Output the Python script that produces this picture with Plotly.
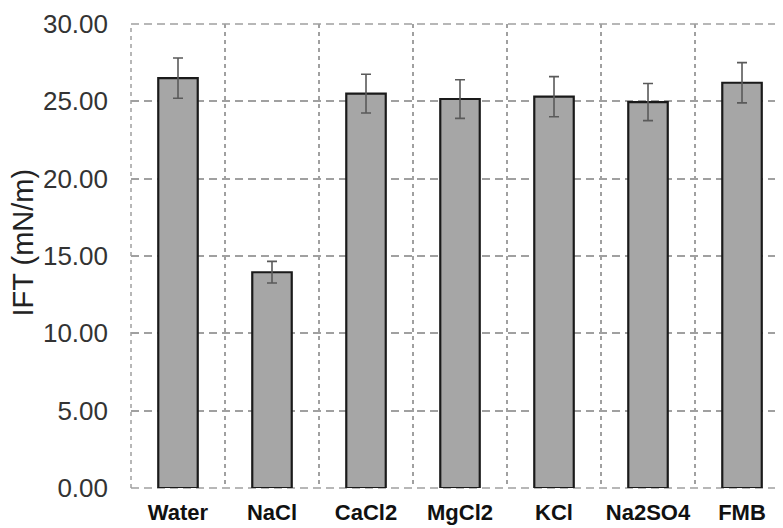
import plotly.graph_objects as go

categories = ["Water", "NaCl", "CaCl2", "MgCl2", "KCl", "Na2SO4", "FMB"]
ift_values = [26.5, 13.95, 25.5, 25.15, 25.3, 24.95, 26.2]
ift_errors = [1.3, 0.7, 1.25, 1.25, 1.3, 1.2, 1.3]
y_ticks = [0, 5, 10, 15, 20, 25, 30]
y_tick_labels = ["0.00", "5.00", "10.00", "15.00", "20.00", "25.00", "30.00"]

grid_color = "#a0a0a0"

fig = go.Figure()
fig.add_trace(go.Bar(
    x=categories,
    y=ift_values,
    width=0.42,
    marker=dict(color="#a6a6a6", line=dict(color="#1a1a1a", width=2.2)),
    error_y=dict(type="data", array=ift_errors, visible=True,
                 color="#5a5a5a", thickness=1.6, width=5),
))

# dashed frame edges (top, bottom, left) like the grid
for (x0, y0, x1, y1, d) in [(0, 0, 1, 0, "8px,5px"), (0, 1, 1, 1, "8px,5px"), (0, 0, 0, 1, "4px,4px")]:
    fig.add_shape(type="line", xref="paper", yref="paper",
                  x0=x0, y0=y0, x1=x1, y1=y1,
                  line=dict(color=grid_color, width=1.5, dash=d),
                  layer="below")

fig.add_annotation(text="IFT (mN/m)", textangle=-90, showarrow=False,
                   xref="paper", yref="paper", x=-0.165, y=0.53,
                   xanchor="center", yanchor="middle",
                   font=dict(size=29, color="#222222"))

fig.update_layout(
    width=775, height=520,
    margin=dict(l=123, r=0, t=16, b=40),
    paper_bgcolor="white", plot_bgcolor="white",
    showlegend=False,
    font=dict(family="Liberation Sans, Arial, sans-serif"),
)
fig.update_xaxes(
    type="category",
    range=[-0.5, 6.436],
    tickson="boundaries",
    automargin=False,
    showgrid=True, gridcolor=grid_color, gridwidth=1.5, griddash="4px,4px",
    ticks="", showline=False, zeroline=False,
    tickfont=dict(size=22, color="#111111", family="Liberation Sans, Arial, sans-serif", weight="bold"),
    ticklabelstandoff=9,
)
fig.update_yaxes(
    range=[0, 30],
    automargin=False,
    tickvals=y_ticks, ticktext=y_tick_labels,
    showgrid=True, gridcolor=grid_color, gridwidth=1.5, griddash="8px,5px",
    zeroline=False, showline=False, ticks="",
    tickfont=dict(size=26, color="#333333"),
    ticklabelstandoff=22,
)

fig.write_html("out.html")
